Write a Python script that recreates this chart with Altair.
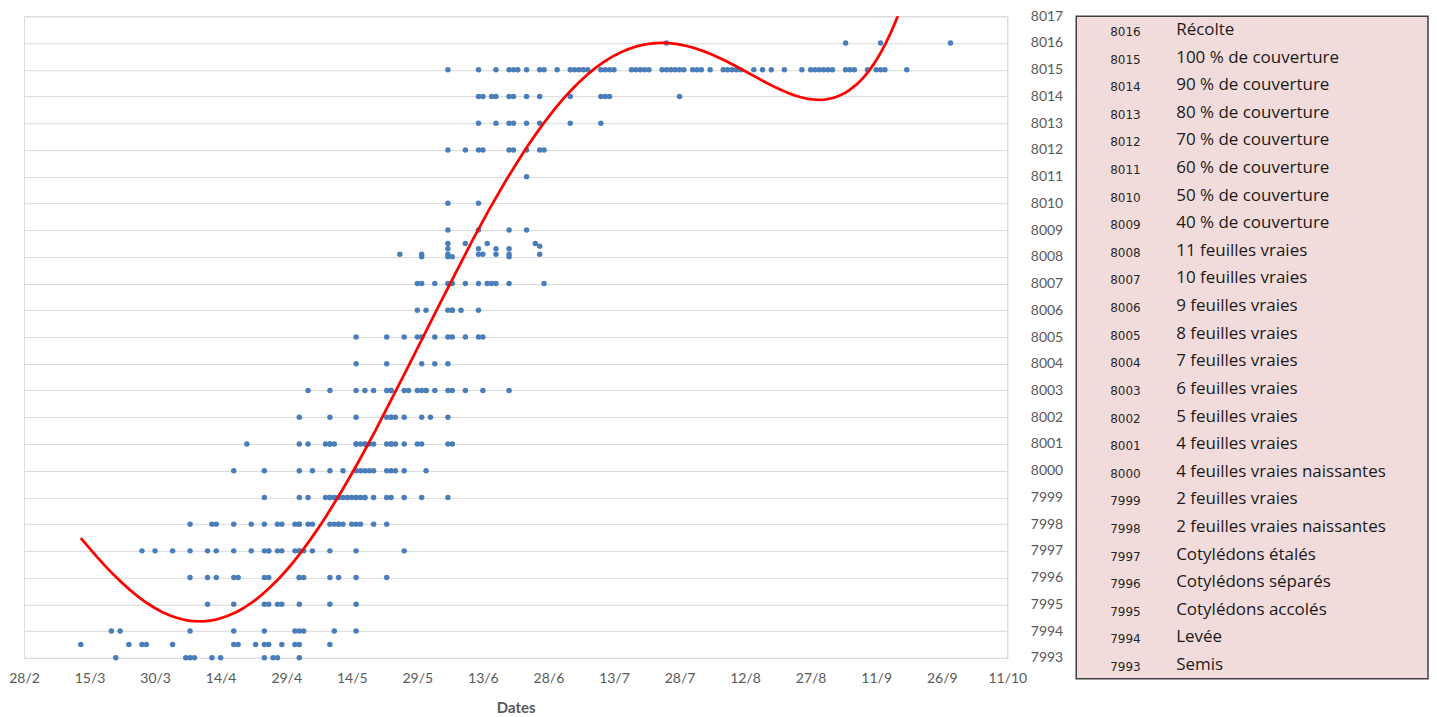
import altair as alt
import pandas as pd

YEAR = 2015

# ---- table of stage codes (right panel) ----
stage_codes = [8016, 8015, 8014, 8013, 8012, 8011, 8010, 8009, 8008, 8007, 8006, 8005,
               8004, 8003, 8002, 8001, 8000, 7999, 7998, 7997, 7996, 7995, 7994, 7993]
stage_names = ["Récolte", "100 % de couverture", "90 % de couverture", "80 % de couverture",
               "70 % de couverture", "60 % de couverture", "50 % de couverture", "40 % de couverture",
               "11 feuilles vraies", "10 feuilles vraies", "9 feuilles vraies", "8 feuilles vraies",
               "7 feuilles vraies", "6 feuilles vraies", "5 feuilles vraies", "4 feuilles vraies",
               "4 feuilles vraies naissantes", "2 feuilles vraies", "2 feuilles vraies naissantes",
               "Cotylédons étalés", "Cotylédons séparés", "Cotylédons accolés", "Levée", "Semis"]

# ---- x-axis tick labels (every 15 days) ----
x_ticks = ["28/2", "15/3", "30/3", "14/4", "29/4", "14/5", "29/5", "13/6", "28/6",
           "13/7", "28/7", "12/8", "27/8", "11/9", "26/9", "11/10"]
y_ticks = list(range(7993, 8018))

# ---- observations (day/month) per stage code ----
obs_7993 = ["21/3", "6/4", "7/4", "8/4", "12/4", "14/4", "24/4", "26/4", "27/4", "2/5"]
obs_7993_5 = ["13/3", "24/3", "27/3", "28/3", "3/4", "17/4", "18/4", "22/4", "24/4", "25/4",
              "28/4", "1/5", "2/5", "9/5"]
obs_7994 = ["20/3", "22/3", "7/4", "17/4", "24/4", "1/5", "2/5", "3/5", "10/5", "15/5"]
obs_7995 = ["11/4", "17/4", "24/4", "25/4", "27/4", "28/4", "2/5", "9/5", "15/5"]
obs_7996 = ["7/4", "11/4", "13/4", "17/4", "18/4", "24/4", "25/4", "2/5", "2/5", "3/5", "9/5",
            "11/5", "15/5", "22/5"]
obs_7997 = ["27/3", "30/3", "3/4", "7/4", "11/4", "13/4", "17/4", "21/4", "24/4", "25/4", "25/4",
            "27/4", "28/4", "1/5", "2/5", "2/5", "3/5", "5/5", "9/5", "15/5", "26/5"]
obs_7998 = ["7/4", "12/4", "13/4", "17/4", "21/4", "24/4", "27/4", "28/4", "1/5", "2/5", "2/5",
            "4/5", "5/5", "9/5", "10/5", "11/5", "11/5", "12/5", "14/5", "15/5", "16/5", "19/5", "22/5"]
obs_7999 = ["24/4", "2/5", "4/5", "8/5", "9/5", "9/5", "10/5", "11/5", "11/5", "12/5", "13/5",
            "13/5", "14/5", "15/5", "15/5", "16/5", "17/5", "17/5", "19/5", "22/5", "23/5", "26/5",
            "30/5", "5/6"]
obs_8000 = ["17/4", "24/4", "2/5", "5/5", "9/5", "12/5", "15/5", "16/5", "17/5", "18/5", "19/5",
            "22/5", "23/5", "24/5", "26/5", "31/5"]
obs_8001 = ["20/4", "2/5", "4/5", "8/5", "9/5", "9/5", "10/5", "15/5", "15/5", "16/5", "17/5",
            "17/5", "18/5", "19/5", "22/5", "23/5", "23/5", "24/5", "26/5", "29/5", "30/5", "5/6", "6/6"]
obs_8002 = ["2/5", "9/5", "15/5", "22/5", "23/5", "23/5", "24/5", "26/5", "30/5", "1/6", "5/6"]
obs_8003 = ["4/5", "9/5", "15/5", "17/5", "19/5", "22/5", "23/5", "23/5", "26/5", "27/5", "29/5",
            "30/5", "31/5", "31/5", "2/6", "5/6", "6/6", "9/6", "13/6", "19/6"]
obs_8004 = ["15/5", "22/5", "30/5", "2/6", "5/6"]
obs_8005 = ["15/5", "22/5", "26/5", "29/5", "30/5", "2/6", "5/6", "6/6", "9/6", "12/6", "13/6"]
obs_8006 = ["29/5", "31/5", "5/6", "6/6", "6/6", "8/6", "12/6"]
obs_8007 = ["29/5", "30/5", "2/6", "5/6", "6/6", "9/6", "12/6", "14/6", "15/6", "16/6", "19/6", "27/6"]
obs_8008 = ["30/5", "5/6", "6/6", "19/6"]
obs_8008_1 = ["25/5", "30/5", "5/6", "12/6", "13/6", "16/6", "19/6", "26/6"]
obs_8008_3 = ["5/6", "12/6", "16/6", "19/6"]
obs_8008_4 = ["26/6"]
obs_8008_5 = ["5/6", "9/6", "14/6", "25/6"]
obs_8009 = ["5/6", "12/6", "19/6", "23/6"]
obs_8010 = ["5/6", "12/6"]
obs_8011 = ["23/6"]
obs_8012 = ["5/6", "9/6", "12/6", "13/6", "19/6", "20/6", "23/6", "26/6", "27/6"]
obs_8013 = ["12/6", "16/6", "19/6", "20/6", "23/6", "26/6", "3/7", "10/7"]
obs_8014 = ["12/6", "13/6", "15/6", "16/6", "19/6", "20/6", "23/6", "26/6", "3/7", "10/7", "11/7",
            "12/7", "28/7"]
obs_8015 = ["5/6", "12/6", "16/6", "19/6", "20/6", "21/6", "23/6", "26/6", "27/6", "30/6", "3/7",
            "4/7", "5/7", "6/7", "7/7", "10/7", "11/7", "12/7", "13/7", "17/7", "18/7", "19/7", "20/7",
            "21/7", "24/7", "25/7", "26/7", "27/7", "28/7", "29/7", "31/7", "1/8", "2/8", "4/8", "7/8",
            "8/8", "9/8", "10/8", "11/8", "14/8", "16/8", "18/8", "21/8", "25/8", "27/8", "28/8", "29/8",
            "30/8", "31/8", "1/9", "4/9", "5/9", "6/9", "9/9", "11/9", "12/9", "13/9", "18/9"]
obs_8016 = ["25/7", "4/9", "12/9", "28/9"]

series = [(7993, obs_7993), (7993.5, obs_7993_5), (7994, obs_7994), (7995, obs_7995),
          (7996, obs_7996), (7997, obs_7997), (7998, obs_7998), (7999, obs_7999),
          (8000, obs_8000), (8001, obs_8001), (8002, obs_8002), (8003, obs_8003),
          (8004, obs_8004), (8005, obs_8005), (8006, obs_8006), (8007, obs_8007),
          (8008, obs_8008), (8008.1, obs_8008_1), (8008.3, obs_8008_3), (8008.4, obs_8008_4),
          (8008.5, obs_8008_5), (8009, obs_8009), (8010, obs_8010), (8011, obs_8011),
          (8012, obs_8012), (8013, obs_8013), (8014, obs_8014), (8015, obs_8015), (8016, obs_8016)]

# ---- polynomial trend curve: values ----
trend_dates = ["13/3", "17/3", "25/3", "2/4", "9/4", "17/4", "24/4", "2/5", "9/5", "11/5",
               "17/5", "20/5", "24/5", "27/5", "30/5", "2/6", "5/6", "8/6", "12/6", "15/6",
               "19/6", "23/6", "26/6", "1/7", "8/7", "16/7", "25/7", "4/8", "12/8", "19/8",
               "29/8", "5/9", "11/9", "15/9", "16/9"]
trend_values = [7997.4, 7996.75, 7995.55, 7994.65, 7994.35, 7994.57, 7995.27, 7996.9, 7998.5,
                7999.0, 8000.9, 8001.85, 8002.95, 8003.9, 8004.9, 8005.85, 8006.95, 8007.95,
                8008.9, 8009.8, 8011.0, 8012.0, 8012.8, 8013.85, 8014.95, 8015.75, 8016.07,
                8015.62, 8014.97, 8014.32, 8013.87, 8014.24, 8015.25, 8016.7, 8017.05]


def to_iso(dm):
    d, m = dm.split("/")
    return f"{YEAR}-{int(m):02d}-{int(d):02d}"


origin = pd.Timestamp(to_iso(x_ticks[0]))
rows = []
for code, dates in series:
    for dm in dates:
        rows.append({"date": to_iso(dm), "code": code})
df = pd.DataFrame(rows)
trend_df = pd.DataFrame({
    "day": [(pd.Timestamp(to_iso(d)) - origin).days for d in trend_dates],
    "code": trend_values,
})

tick_ms = [int(pd.Timestamp(to_iso(t), tz="UTC").value // 10**6) for t in x_ticks]
origin_ms = tick_ms[0]

xscale = alt.Scale(type="utc", domain=[tick_ms[0], tick_ms[-1]], nice=False)
yscale = alt.Scale(domain=[7993, 8017], nice=False, zero=False)

xaxis = alt.Axis(values=tick_ms, format="%-d/%-m", grid=False, domain=False, ticks=False,
                 labelFlush=False, labelPadding=14, labelFontSize=14, labelColor="#595959",
                 labelFont="Lato", title="Dates", titleFont="Lato", titleFontSize=15,
                 titleFontWeight="bold", titleColor="#595959", titlePadding=15)
yaxis = alt.Axis(orient="right", values=y_ticks, format="d", grid=True, gridColor="#d9d9d9",
                 gridWidth=1, domain=True, domainColor="#d9d9d9", ticks=False, labelPadding=23,
                 labelFlush=False, labelFontSize=14, labelColor="#595959", labelFont="Lato",
                 title=None)

points = alt.Chart(df).mark_circle(size=30, color="#4a7ebb", opacity=1).encode(
    x=alt.X("date:T", scale=xscale, axis=xaxis),
    y=alt.Y("code:Q", scale=yscale, axis=yaxis),
)
trend = alt.Chart(trend_df).transform_regression(
    "day", "code", method="poly", order=6
).transform_calculate(
    t=f"{origin_ms} + datum.day * 86400000"
).mark_line(color="#ff0000", strokeWidth=2.75, clip=True).encode(
    x=alt.X("t:T", scale=xscale, axis=xaxis),
    y=alt.Y("code:Q", scale=yscale, axis=yaxis),
)
main = alt.layer(points, trend).properties(width=984, height=642)

table_df = pd.DataFrame({"code": stage_codes, "name": stage_names})
tbase = alt.Chart(table_df).encode(
    y=alt.Y("code:O", sort="descending", axis=None,
            scale=alt.Scale(paddingInner=0, paddingOuter=0))
)
codes_txt = tbase.mark_text(align="left", baseline="middle", font="DejaVu Sans", fontSize=12,
                            color="#262626", dy=2).encode(x=alt.value(34), text="code:N")
names_txt = tbase.mark_text(align="left", baseline="middle", font="Open Sans", fontSize=17,
                            color="#1a1a1a").encode(x=alt.value(100), text="name:N")
table = alt.layer(codes_txt, names_txt).properties(
    width=352, height=663,
    view=alt.ViewBackground(fill="#f2dcdb", stroke="#404040", strokeWidth=1.5),
)

chart = alt.hconcat(main, table, spacing=69, bounds="flush").properties(
    padding={"left": 0, "top": 0, "right": 0, "bottom": 0}
).configure_view(stroke="transparent").configure(background="white")

chart.save("out.html", embed_options={"renderer": "svg", "actions": False})
